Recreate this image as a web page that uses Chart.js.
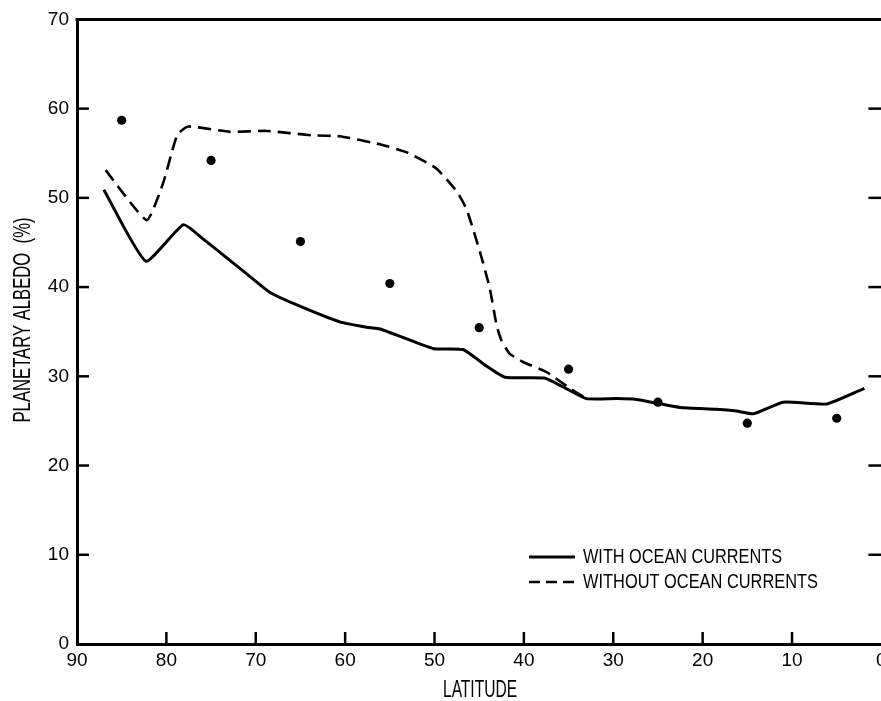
<!DOCTYPE html>
<html>
<head>
<meta charset="utf-8">
<script src="https://cdn.jsdelivr.net/npm/chart.js@4.4.1/dist/chart.umd.min.js"></script>
<style>
html,body{margin:0;padding:0;background:#fff;overflow:hidden;}
#wrap{width:881px;height:701px;position:relative;overflow:hidden;}
canvas{display:block;}
</style>
</head>
<body>
<div id="wrap"><canvas id="c" width="886" height="701"></canvas></div>
<script>
// ---- data ----
const withLat = [87.0, 82.3, 78.1, 75.9, 72.9, 70.3, 68.4, 65.4, 60.6, 57.6, 56.1, 53.1, 50.1, 46.8, 44.4, 42.1, 37.7, 35.6, 33.0, 29.6, 27.4, 25.2, 22.5, 18.5, 16.2, 14.3, 11.0, 6.1, 1.9];
const withAlb = [50.9, 42.9, 47.0, 45.4, 43.0, 40.9, 39.4, 38.0, 36.1, 35.5, 35.3, 34.2, 33.1, 33.0, 31.3, 29.9, 29.8, 28.8, 27.5, 27.5, 27.4, 27.0, 26.5, 26.3, 26.1, 25.8, 27.1, 26.9, 28.65];
const withoutLat = [86.8, 82.2, 80.35, 79.2, 78.7, 77.55, 72.9, 68.8, 63.6, 60.6, 56.1, 53.1, 49.8, 47.5, 46.4, 44.9, 43.8, 43.05, 42.5, 41.6, 40.1, 37.5, 34.85, 33.0];
const withoutAlb = [53.1, 47.5, 51.7, 55.8, 57.2, 58.0, 57.4, 57.5, 57.0, 56.9, 56.0, 55.1, 53.3, 50.7, 48.7, 43.9, 39.8, 35.7, 34.0, 32.55, 31.6, 30.5, 28.65, 27.5];
const obsLat = [85, 75, 65, 55, 45, 35, 25, 15, 5];
const obsAlb = [58.7, 54.2, 45.1, 40.4, 35.45, 30.8, 27.1, 24.75, 25.3];
const xTicks = [90, 80, 70, 60, 50, 40, 30, 20, 10, 0];
const yTicks = [0, 10, 20, 30, 40, 50, 60, 70];
const legendLabels = ["WITH OCEAN CURRENTS", "WITHOUT OCEAN CURRENTS"];
const xTitle = "LATITUDE";
const yTitle = "PLANETARY ALBEDO  (%)";

const NARROW = '"Liberation Sans Narrow", "Liberation Sans", sans-serif';
const SANS = '"Liberation Sans", Arial, sans-serif';

const pts = (xs, ys) => xs.map((x, i) => ({x: x, y: ys[i]}));

// draw text squeezed horizontally to a target width (condensed look)
function squeezed(ctx, text, x, y, targetW, align) {
  const w = ctx.measureText(text).width;
  const k = Math.min(1, targetW / w);
  ctx.save();
  ctx.translate(x, y);
  ctx.scale(k, 1);
  ctx.textAlign = align;
  ctx.fillText(text, 0, 0);
  ctx.restore();
}

const decor = {
  id: 'decor',
  afterDatasetsDraw(chart) {
    const ctx = chart.ctx, a = chart.chartArea;
    const xs = chart.scales.x, ys = chart.scales.y;
    ctx.save();
    ctx.strokeStyle = '#000';
    ctx.lineCap = 'butt';
    // top border
    ctx.lineWidth = 3;
    ctx.beginPath(); ctx.moveTo(a.left - 1.5, a.top); ctx.lineTo(a.right, a.top); ctx.stroke();
    // inward ticks
    ctx.lineWidth = 2.5;
    xTicks.forEach(v => {
      if (v === 90 || v === 0) return;
      const px = xs.getPixelForValue(v);
      ctx.beginPath(); ctx.moveTo(px, a.bottom); ctx.lineTo(px, a.bottom - 12); ctx.stroke();
    });
    yTicks.forEach(v => {
      if (v === 0 || v === 70) return;
      const py = ys.getPixelForValue(v);
      ctx.beginPath(); ctx.moveTo(a.left, py); ctx.lineTo(a.left + 12, py); ctx.stroke();
      ctx.beginPath(); ctx.moveTo(a.right - 13, py); ctx.lineTo(a.right, py); ctx.stroke();
    });
    // legend
    ctx.lineWidth = 3;
    ctx.beginPath(); ctx.moveTo(529, 557); ctx.lineTo(575, 557); ctx.stroke();
    ctx.lineWidth = 2.4;
    ctx.setLineDash([11, 6]);
    ctx.beginPath(); ctx.moveTo(529, 582); ctx.lineTo(575, 582); ctx.stroke();
    ctx.setLineDash([]);
    ctx.fillStyle = '#000';
    ctx.font = '21px ' + NARROW;
    ctx.textBaseline = 'middle';
    squeezed(ctx, legendLabels[0], 583, 557, 199, 'left');
    squeezed(ctx, legendLabels[1], 583, 582, 235, 'left');
    // axis titles
    ctx.font = '24px ' + NARROW;
    squeezed(ctx, xTitle, 480, 690, 74, 'center');
    ctx.translate(23, 320);
    ctx.rotate(-Math.PI / 2);
    squeezed(ctx, yTitle, 0, 0, 205, 'center');
    ctx.restore();
  }
};

new Chart(document.getElementById('c'), {
  type: 'line',
  data: {
    datasets: [
      {
        label: legendLabels[0],
        data: pts(withLat, withAlb),
        borderColor: '#000',
        borderWidth: 3,
        pointRadius: 0,
        tension: 0.15,
        fill: false
      },
      {
        label: legendLabels[1],
        data: pts(withoutLat, withoutAlb),
        borderColor: '#000',
        borderWidth: 2.6,
        borderDash: [13, 7],
        pointRadius: 0,
        tension: 0.15,
        fill: false
      },
      {
        label: 'observed',
        data: pts(obsLat, obsAlb),
        showLine: false,
        pointRadius: 4.6,
        pointBackgroundColor: '#000',
        pointBorderColor: '#000',
        pointBorderWidth: 0
      }
    ]
  },
  options: {
    responsive: false,
    animation: false,
    devicePixelRatio: 1,
    clip: false,
    layout: {padding: {top: 15, left: 0, right: 0, bottom: 0}},
    plugins: {legend: {display: false}, tooltip: {enabled: false}, title: {display: false}},
    scales: {
      x: {
        type: 'linear',
        reverse: true,
        min: 0, max: 90,
        afterBuildTicks: s => { s.ticks = xTicks.map(v => ({value: v})); },
        afterFit: s => { s.height = 57; s.paddingLeft = 0; s.paddingRight = 0; },
        grid: {display: false, drawTicks: false},
        border: {display: true, color: '#000', width: 3},
        ticks: {color: '#000', font: {family: SANS, size: 19}, padding: 5, maxRotation: 0, autoSkip: false}
      },
      y: {
        min: 0, max: 70,
        afterBuildTicks: s => { s.ticks = yTicks.map(v => ({value: v})); },
        afterFit: s => { s.width = 77; },
        grid: {display: false, drawTicks: false},
        border: {display: true, color: '#000', width: 3},
        ticks: {color: '#000', font: {family: SANS, size: 19}, padding: 8, autoSkip: false}
      }
    }
  },
  plugins: [decor]
});
</script>
</body>
</html>
